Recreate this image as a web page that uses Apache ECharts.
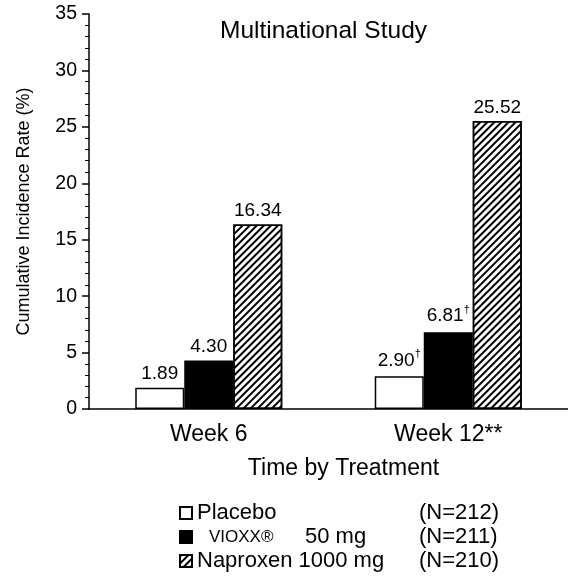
<!DOCTYPE html>
<html>
<head>
<meta charset="utf-8">
<script src="https://cdn.jsdelivr.net/npm/echarts@6/dist/echarts.min.js"></script>
<style>
html,body{margin:0;padding:0;background:#fff;}
#chart{width:568px;height:579px;}
</style>
</head>
<body>
<div id="chart"></div>
<script>
const categories = ['Week 6', 'Week 12**'];
const placebo = [1.89, 2.90];
const vioxx = [4.30, 6.81];
const naproxen = [16.34, 25.52];
const placeboMarks = ['', '†'];
const vioxxMarks = ['', '†'];
const naproxenMarks = ['', ''];
const seriesNames = ['Placebo', 'VIOXX® 50 mg', 'Naproxen 1000 mg'];
const seriesN = ['(N=212)', '(N=211)', '(N=210)'];
const yMin = 0, yMax = 35, yStep = 5;

const FONT = '"Liberation Sans", Arial, sans-serif';

function labelFor(marks) {
  return {
    show: true,
    position: 'top',
    distance: 4,
    fontFamily: FONT,
    fontSize: 19,
    color: '#000',
    formatter: p => p.value.toFixed(2) + (marks[p.dataIndex] ? '{s|' + marks[p.dataIndex] + '}' : ''),
    rich: {
      s: { fontSize: 11, fontFamily: FONT, color: '#000', verticalAlign: 'top', lineHeight: 24, padding: [0, 0, 10, 0] }
    }
  };
}

const chart = echarts.init(document.getElementById('chart'), null, { renderer: 'canvas' });
chart.setOption({
  backgroundColor: '#fff',
  animation: false,
  title: {
    text: 'Multinational Study',
    left: 220,
    top: 19,
    padding: 0,
    textStyle: { fontFamily: FONT, fontSize: 24.5, fontWeight: 'normal', color: '#000' }
  },
  legend: {
    orient: 'vertical',
    left: 179,
    top: 502,
    padding: 0,
    itemGap: 2,
    itemWidth: 12,
    itemHeight: 12,
    icon: 'rect',
    selectedMode: false,
    data: seriesNames,
    formatter: name => {
      const i = seriesNames.indexOf(name);
      if (i === 1) return '{g|}{v|VIOXX®}{m|50 mg}{n|' + seriesN[i] + '}';
      return '{t|' + name + '}{n|' + seriesN[i] + '}';
    },
    textStyle: {
      fontFamily: FONT, fontSize: 22, color: '#000', lineHeight: 22,
      rich: {
        t: { fontFamily: FONT, fontSize: 22, color: '#000', width: 222 },
        g: { width: 12 },
        v: { fontFamily: FONT, fontSize: 17, color: '#000', width: 96 },
        m: { fontFamily: FONT, fontSize: 22, color: '#000', width: 114 },
        n: { fontFamily: FONT, fontSize: 22, color: '#000' }
      }
    }
  },
  grid: { left: 89, right: -9, top: 14, bottom: 170, containLabel: false },
  xAxis: {
    type: 'category',
    data: categories,
    name: 'Time by Treatment',
    nameLocation: 'middle',
    nameGap: 48,
    nameTextStyle: { fontFamily: FONT, fontSize: 23, color: '#000', padding: [0, 0, 0, 30] },
    axisLine: { lineStyle: { color: '#000', width: 1.5 } },
    axisTick: { show: false },
    axisLabel: { fontFamily: FONT, fontSize: 23, color: '#000', margin: 14 },
    splitLine: { show: false }
  },
  yAxis: {
    type: 'value',
    min: yMin,
    max: yMax,
    interval: yStep,
    name: 'Cumulative Incidence Rate (%)',
    nameLocation: 'middle',
    nameGap: 56,
    nameTextStyle: { fontFamily: FONT, fontSize: 18, color: '#000' },
    axisLine: { show: true, lineStyle: { color: '#000', width: 1.5 } },
    axisTick: { show: true, length: 7, lineStyle: { color: '#000', width: 1.5 } },
    minorTick: { show: true, splitNumber: 5, length: 4, lineStyle: { color: '#000', width: 1 } },
    axisLabel: { fontFamily: FONT, fontSize: 19.5, color: '#000', margin: 12 },
    splitLine: { show: false }
  },
  series: [
    {
      name: seriesNames[0], type: 'bar', data: placebo, barWidth: 49, barGap: '0%',
      itemStyle: { color: '#fff', borderColor: '#000', borderWidth: 1.5 },
      label: labelFor(placeboMarks)
    },
    {
      name: seriesNames[1], type: 'bar', data: vioxx, barWidth: 49, barGap: '0%',
      itemStyle: { color: '#000', borderColor: '#000', borderWidth: 1.5 },
      label: labelFor(vioxxMarks)
    },
    {
      name: seriesNames[2], type: 'bar', data: naproxen, barWidth: 49, barGap: '0%',
      itemStyle: {
        color: '#fff', borderColor: '#000', borderWidth: 1.5,
        decal: {
          symbol: 'rect', symbolSize: 1, color: '#000',
          dashArrayX: [[1, 0]], dashArrayY: [2, 3], rotation: -Math.PI / 4
        }
      },
      label: labelFor(naproxenMarks)
    }
  ]
});
</script>
</body>
</html>
